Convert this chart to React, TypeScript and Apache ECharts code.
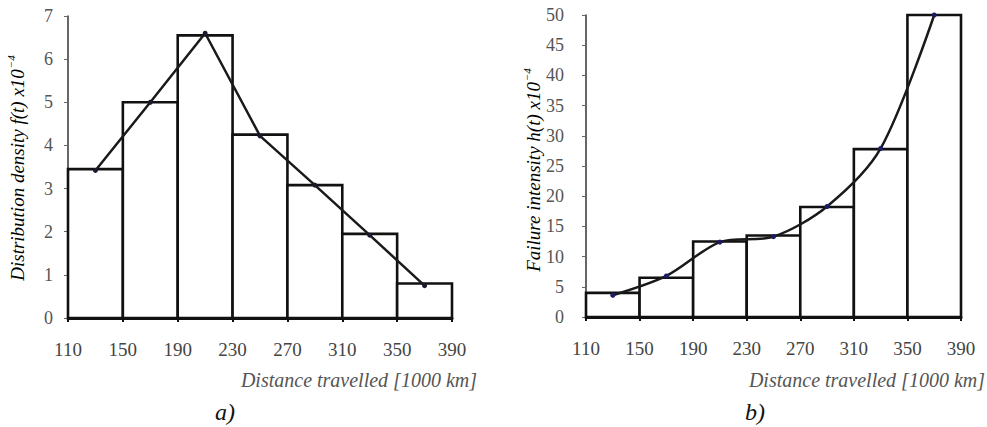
import React, { useEffect, useRef } from "react";
import * as echarts from "echarts";

const binStarts = [110, 150, 190, 230, 270, 310, 350];
const binEnds = [150, 190, 230, 270, 310, 350, 390];
const midpoints = [130, 170, 210, 250, 290, 330, 370];
const densityBars = [3.45, 5.0, 6.55, 4.25, 3.08, 1.95, 0.8];
const densityLine = [3.42, 5.0, 6.6, 4.22, 3.08, 1.92, 0.75];
const intensityBars = [4.0, 6.5, 12.5, 13.5, 18.2, 27.8, 50];
const intensityLine = [3.6, 6.8, 12.4, 13.3, 18.3, 27.9, 50];
const xTickValues = [110, 150, 190, 230, 270, 310, 350, 390];
const xAxisTitle = "Distance travelled [1000 km]";
const leftYTitle = "Distribution density f(t) x10";
const rightYTitle = "Failure intensity h(t) x10";
const supText = "\u22124";
const panelLabels = ["a)", "b)"];

const FONT = "Liberation Serif, Times New Roman, serif";

function barData(values: number[]) {
  return values.map((v, i) => [binStarts[i], binEnds[i], v]);
}
function lineData(values: number[]) {
  return values.map((v, i) => [midpoints[i], v]);
}

const renderBar = (params: any, api: any) => {
  const s = api.value(0);
  const e = api.value(1);
  const v = api.value(2);
  const p0 = api.coord([s, 0]);
  const p1 = api.coord([e, v]);
  return {
    type: "rect",
    shape: { x: p0[0], y: p1[1], width: p1[0] - p0[0], height: p0[1] - p1[1] },
    style: { fill: "#ffffff", stroke: "#111111", lineWidth: 2.6 },
  };
};

export default function App() {
  const ref = useRef<HTMLDivElement>(null);
  useEffect(() => {
    document.body.style.margin = "0";
    if (!ref.current) return;
    const chart = echarts.init(ref.current, undefined, { renderer: "svg" });

    const xAxisBase = (gridIndex: number) => ({
      type: "value",
      gridIndex,
      min: 110,
      max: 390,
      interval: 40,
      splitLine: { show: false },
      axisLine: { show: true, lineStyle: { color: "#111", width: 3 } },
      axisTick: { show: true, length: 4, lineStyle: { color: "#111", width: 2 } },
      axisLabel: {
        margin: 22,
        fontFamily: FONT,
        fontSize: 19,
        color: "#444",
        customValues: xTickValues,
      },
    });

    const yAxisBase = (gridIndex: number, max: number, interval: number, margin: number) => ({
      type: "value",
      gridIndex,
      min: 0,
      max,
      interval,
      splitLine: { show: false },
      axisLine: { show: true, lineStyle: { color: "#333", width: 1.5 } },
      axisTick: { show: true, length: 4, lineStyle: { color: "#666", width: 1 } },
      axisLabel: { margin, fontFamily: FONT, fontSize: 18, color: "#555" },
    });

    const rich = {
      b: { fontFamily: FONT, fontSize: 19, fontStyle: "italic", color: "#555", lineHeight: 24 },
      s: { fontFamily: FONT, fontSize: 11, fontStyle: "italic", color: "#555", verticalAlign: "top", lineHeight: 24, padding: [0, 0, 10, 1] },
    };

    chart.setOption({
      animation: false,
      backgroundColor: "#ffffff",
      grid: [
        { left: 68, top: 16, width: 384, height: 302, containLabel: false },
        { left: 586, top: 15, width: 375, height: 302, containLabel: false },
      ],
      xAxis: [xAxisBase(0), xAxisBase(1)],
      yAxis: [yAxisBase(0, 7, 1, 15), yAxisBase(1, 50, 5, 22)],
      series: [
        {
          type: "custom",
          xAxisIndex: 0,
          yAxisIndex: 0,
          renderItem: renderBar,
          encode: { x: [0, 1], y: 2 },
          data: barData(densityBars),
          z: 2,
        },
        {
          type: "line",
          xAxisIndex: 0,
          yAxisIndex: 0,
          data: lineData(densityLine),
          symbol: "circle",
          symbolSize: 5,
          itemStyle: { color: "#1a1a2e" },
          lineStyle: { color: "#1a1a1a", width: 2.5 },
          z: 5,
        },
        {
          type: "custom",
          xAxisIndex: 1,
          yAxisIndex: 1,
          renderItem: renderBar,
          encode: { x: [0, 1], y: 2 },
          data: barData(intensityBars),
          z: 2,
        },
        {
          type: "line",
          xAxisIndex: 1,
          yAxisIndex: 1,
          data: lineData(intensityLine),
          smooth: 0.3,
          symbol: "circle",
          symbolSize: 5,
          itemStyle: { color: "#1c1c66" },
          lineStyle: { color: "#1a1a1a", width: 2.5 },
          z: 5,
        },
      ],
      graphic: [
        {
          type: "text",
          x: 17,
          y: 168,
          rotation: Math.PI / 2,
          style: {
            text: `{b|${leftYTitle}}{s|${supText}}`,
            rich,
            align: "center",
            verticalAlign: "middle",
          },
        },
        {
          type: "text",
          x: 533,
          y: 170,
          rotation: Math.PI / 2,
          style: {
            text: `{b|${rightYTitle}}{s|${supText}}`,
            rich,
            align: "center",
            verticalAlign: "middle",
          },
        },
        {
          type: "text",
          x: 477,
          y: 380,
          style: {
            text: xAxisTitle,
            fontFamily: FONT,
            fontSize: 20,
            fontStyle: "italic",
            fill: "#555",
            align: "right",
            verticalAlign: "middle",
          },
        },
        {
          type: "text",
          x: 985,
          y: 380,
          style: {
            text: xAxisTitle,
            fontFamily: FONT,
            fontSize: 20,
            fontStyle: "italic",
            fill: "#555",
            align: "right",
            verticalAlign: "middle",
          },
        },
        {
          type: "text",
          x: 215,
          y: 412,
          style: {
            text: panelLabels[0],
            fontFamily: FONT,
            fontSize: 24,
            fontStyle: "italic",
            fill: "#111",
            align: "left",
            verticalAlign: "middle",
          },
        },
        {
          type: "text",
          x: 745,
          y: 412,
          style: {
            text: panelLabels[1],
            fontFamily: FONT,
            fontSize: 24,
            fontStyle: "italic",
            fill: "#111",
            align: "left",
            verticalAlign: "middle",
          },
        },
      ],
    });
    return () => chart.dispose();
  }, []);
  return <div ref={ref} style={{ width: 987, height: 427 }} />;
}
